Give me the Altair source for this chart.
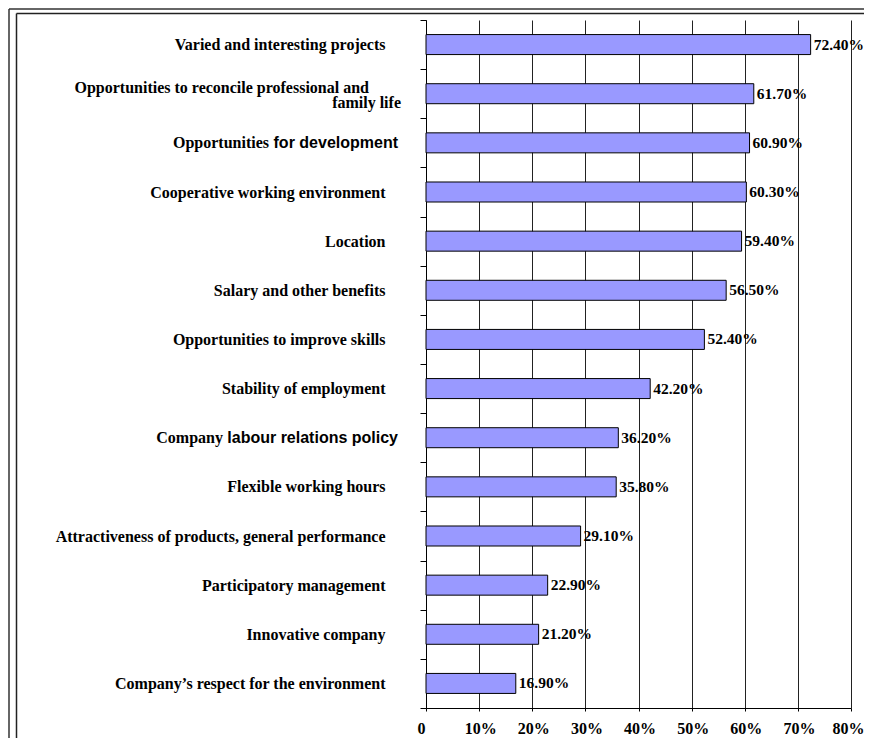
import altair as alt
import pandas as pd

categories = [
    "Varied and interesting projects",
    "Opportunities to reconcile professional and family life",
    "Opportunities for development",
    "Cooperative working environment",
    "Location",
    "Salary and other benefits",
    "Opportunities to improve skills",
    "Stability of employment",
    "Company labour relations policy",
    "Flexible working hours",
    "Attractiveness of products, general performance",
    "Participatory management",
    "Innovative company",
    "Company\u2019s respect for the environment",
]
values = [72.4, 61.7, 60.9, 60.3, 59.4, 56.5, 52.4, 42.2, 36.2, 35.8, 29.1, 22.9, 21.2, 16.9]
x_ticks = [0, 10, 20, 30, 40, 50, 60, 70, 80]

wrap_cat = categories[1]
wrap_lines = ["Opportunities to reconcile professional and", "family life"]
mixed_cats = [categories[2], categories[8]]
mixed_serif = ["Opportunities", "Company"]
mixed_sans = ["for development", "labour relations policy"]

df = pd.DataFrame({"factor": categories, "share": values})
mixed_df = pd.DataFrame({"factor": mixed_cats, "serif": mixed_serif, "sans": mixed_sans})
one = pd.DataFrame({"k": [0]})

SERIF = "Liberation Serif"
SANS = "Liberation Sans"
FS = 16
W, H = 425, 688
PL, PT, PR, PB = 418, 12, 13, 32

special = [wrap_cat] + mixed_cats
special_expr = " || ".join("datum.label == '%s'" % c for c in special)

y_enc = alt.Y(
    "factor:N",
    sort=categories,
    title=None,
    scale=alt.Scale(paddingInner=0, paddingOuter=0),
    axis=alt.Axis(
        tickBand="extent",
        domainColor="black",
        tickColor="black",
        tickSize=6,
        labelPadding=35,
        labelFont=SERIF,
        labelFontSize=FS,
        labelFontWeight="bold",
        labelColor="black",
        labelLimit=500,
        labelExpr="(%s) ? '' : datum.label" % special_expr,
    ),
)
x_enc = alt.X(
    "share:Q",
    title=None,
    scale=alt.Scale(domain=[0, 80], nice=False),
    axis=alt.Axis(
        values=x_ticks,
        grid=True,
        gridColor="#222222",
        gridOpacity=1,
        domainColor="black",
        tickColor="black",
        tickSize=3,
        labelPadding=9,
        labelFlush=False,
        labelOverlap=False,
        labelOffset={
            "condition": [
                {"test": "datum.value == 0", "value": -5},
                {"test": "datum.value == 80", "value": -3},
            ],
            "value": 1,
        },
        labelFont=SERIF,
        labelFontSize=FS,
        labelFontWeight="bold",
        labelColor="black",
        labelExpr="datum.value == 0 ? '0' : datum.value + '%'",
    ),
)
y_plain = alt.Y("factor:N", sort=categories)

base = alt.Chart(df)
bars = base.mark_bar(
    fill="#9999FF", stroke="black", strokeWidth=1, height=alt.RelativeBandSize(0.407)
).encode(x=x_enc, y=y_enc)

labels = base.transform_calculate(
    lbl="format(datum.share, '.2f') + '%'"
).mark_text(
    align="left", baseline="middle", dx=3, font=SERIF, fontSize=15.5, fontWeight="bold", color="black"
).encode(x="share:Q", y=y_plain, text="lbl:N")

txt = dict(align="right", baseline="middle", fontSize=FS, fontWeight="bold", color="black")
wrap1 = base.transform_filter(alt.datum.factor == wrap_cat).mark_text(
    font=SERIF, dy=-6, **txt
).encode(x=alt.value(-57), y=y_plain, text=alt.value(wrap_lines[0]))
wrap2 = base.transform_filter(alt.datum.factor == wrap_cat).mark_text(
    font=SERIF, dy=9, **txt
).encode(x=alt.value(-25), y=y_plain, text=alt.value(wrap_lines[1]))
mixed_a = alt.Chart(mixed_df).mark_text(font=SANS, **txt).encode(
    x=alt.value(-28), y=y_plain, text="sans:N")
mixed_b1 = alt.Chart(mixed_df).transform_filter(alt.datum.factor == mixed_cats[0]).mark_text(
    font=SERIF, **txt).encode(x=alt.value(-28 - 129), y=y_plain, text="serif:N")
mixed_b2 = alt.Chart(mixed_df).transform_filter(alt.datum.factor == mixed_cats[1]).mark_text(
    font=SERIF, **txt).encode(x=alt.value(-28 - 175), y=y_plain, text="serif:N")

# double frame around the figure
right_edge = 856 - PL
bottom_edge = 730 - PT
f1 = alt.Chart(one).mark_rule(color="#333333", strokeWidth=1.5).encode(
    x=alt.value(-417), y=alt.value(-11), y2=alt.value(bottom_edge))
f2 = alt.Chart(one).mark_rule(color="#333333", strokeWidth=1.5).encode(
    x=alt.value(-417), x2=alt.value(right_edge), y=alt.value(-11))
f3 = alt.Chart(one).mark_rule(color="#222222", strokeWidth=1.5).encode(
    x=alt.value(-409.5), y=alt.value(-6.5), y2=alt.value(bottom_edge))
f4 = alt.Chart(one).mark_rule(color="#222222", strokeWidth=1.5).encode(
    x=alt.value(-409.5), x2=alt.value(right_edge), y=alt.value(-6.5))

chart = alt.layer(
    bars, labels, wrap1, wrap2, mixed_a, mixed_b1, mixed_b2, f1, f2, f3, f4
).properties(
    width=W,
    height=H,
    autosize=alt.AutoSizeParams(type="none"),
    padding={"left": PL, "top": PT, "right": PR, "bottom": PB},
    background="white",
).configure_view(stroke="transparent")

chart.save("out.html", embed_options={"renderer": "svg", "actions": False})
